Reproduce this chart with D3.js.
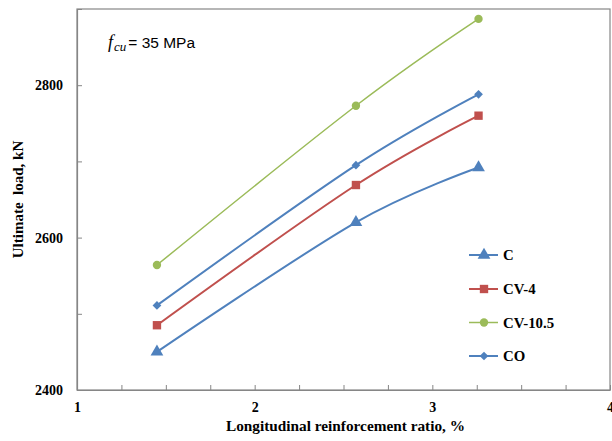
<!DOCTYPE html>
<html>
<head>
<meta charset="utf-8">
<script src="https://cdn.jsdelivr.net/npm/d3@7"></script>
<style>
  html, body { margin: 0; padding: 0; background: #fff; }
  svg { display: block; }
  .tick text { font-family: "Liberation Serif", "Times New Roman", serif; font-weight: bold; font-size: 14px; fill: #000; }
</style>
</head>
<body>
<svg id="chart" width="612" height="441"></svg>
<script>
// Longitudinal reinforcement ratio (%) for the three column groups
const ratios = [1.45, 2.57, 3.26];

// Ultimate load (kN) per specimen series
const loadC     = [2450, 2620, 2692];
const loadCV4   = [2485, 2669, 2760];
const loadCV105 = [2564, 2773, 2887];
const loadCO    = [2511, 2695, 2788];

const seriesNames = ["C", "CV-4", "CV-10.5", "CO"];
const xTickLabels = [1, 2, 3, 4];
const yTickLabels = [2400, 2600, 2800];

// Marker styles; the CO diamond is a square turned by 45 degrees
const series = [
  { name: seriesNames[0], values: loadC,     color: "#4F81BD", width: 2,   symbol: d3.symbolTriangle, size: 70, rot: 0 },
  { name: seriesNames[1], values: loadCV4,   color: "#C0504D", width: 2,   symbol: d3.symbolSquare,   size: 70, rot: 0 },
  { name: seriesNames[2], values: loadCV105, color: "#9BBB59", width: 1.5, symbol: d3.symbolCircle,   size: 55, rot: 0 },
  { name: seriesNames[3], values: loadCO,    color: "#4F81BD", width: 2,   symbol: d3.symbolSquare,   size: 38, rot: 45 }
];

const svg = d3.select("#chart");
const margin = { left: 77, right: 2, top: 9, bottom: 51 };
const W = 612, H = 441;

const x = d3.scaleLinear().domain([1, 4]).range([margin.left, W - margin.right]);
const y = d3.scaleLinear().domain([2400, 2900]).range([H - margin.bottom, margin.top]);

const axisColor = "#868686";

// Plot frame
svg.append("rect")
  .attr("x", x(1)).attr("y", y(2900))
  .attr("width", x(4) - x(1)).attr("height", y(2400) - y(2900))
  .attr("fill", "none").attr("stroke", axisColor).attr("stroke-width", 1.2);

// X axis: ticks every 0.25, labels on integers, ticks pointing inward
const xAxis = d3.axisBottom(x)
  .tickValues(d3.range(1, 4.001, 0.25))
  .tickSizeInner(-5).tickSizeOuter(0).tickPadding(12)
  .tickFormat(d => xTickLabels.includes(d) ? d3.format("d")(d) : "");
const gx = svg.append("g").attr("transform", `translate(0,${y(2400)})`).call(xAxis);
gx.select(".domain").attr("stroke", axisColor).attr("stroke-width", 1.2);
gx.selectAll(".tick line").attr("stroke", axisColor);

// Y axis: ticks every 100, labels every 200, ticks pointing inward
const yAxis = d3.axisLeft(y)
  .tickValues(d3.range(2400, 2901, 100))
  .tickSizeInner(-5).tickSizeOuter(0).tickPadding(14)
  .tickFormat(d => yTickLabels.includes(d) ? d : "");
const gy = svg.append("g").attr("transform", `translate(${x(1)},0)`).call(yAxis);
gy.select(".domain").attr("stroke", axisColor).attr("stroke-width", 1.2);
gy.selectAll(".tick line").attr("stroke", axisColor);

// Axis titles
svg.append("text")
  .attr("x", (x(1) + x(4)) / 2 + 2).attr("y", 431)
  .attr("text-anchor", "middle")
  .attr("font-family", "Liberation Serif, Times New Roman, serif")
  .attr("font-weight", "bold").attr("font-size", 15.3)
  .text("Longitudinal reinforcement ratio, %");

svg.append("text")
  .attr("transform", `translate(23,${(y(2400) + y(2900)) / 2}) rotate(-90)`)
  .attr("text-anchor", "middle")
  .attr("font-family", "Liberation Serif, Times New Roman, serif")
  .attr("font-weight", "bold").attr("font-size", 15)
  .attr("xml:space", "preserve")
  .text("Ultimate  load, kN");

// Smoothed series lines and markers
const line = d3.line()
  .x((d, i) => x(ratios[i]))
  .y(d => y(d))
  .curve(d3.curveCatmullRom.alpha(0));

series.forEach(s => {
  svg.append("path")
    .datum(s.values)
    .attr("d", line)
    .attr("fill", "none")
    .attr("stroke", s.color)
    .attr("stroke-width", s.width);

  svg.append("g").selectAll("path")
    .data(s.values)
    .join("path")
    .attr("transform", (d, i) => `translate(${x(ratios[i])},${y(d)}) rotate(${s.rot})`)
    .attr("d", d3.symbol().type(s.symbol).size(s.size))
    .attr("fill", s.color);
});

// Legend
const legend = svg.append("g").attr("transform", "translate(469,255)");
const rowY = [0, 34, 67.5, 101];
series.forEach((s, i) => {
  const g = legend.append("g").attr("transform", `translate(0,${rowY[i]})`);
  g.append("line").attr("x1", 0).attr("x2", 29).attr("y1", 0).attr("y2", 0)
    .attr("stroke", s.color).attr("stroke-width", s.width);
  g.append("path").attr("transform", `translate(15,0) rotate(${s.rot})`)
    .attr("d", d3.symbol().type(s.symbol).size(s.size)).attr("fill", s.color);
  g.append("text").attr("x", 34).attr("y", 5)
    .attr("font-family", "Liberation Serif, Times New Roman, serif")
    .attr("font-weight", "bold").attr("font-size", 14.8)
    .text(s.name);
});

// Concrete strength annotation
const note = svg.append("text").attr("x", 108).attr("y", 47.5);
note.append("tspan")
  .attr("font-family", "Liberation Serif, Times New Roman, serif")
  .attr("font-style", "italic").attr("font-size", 18)
  .text("f");
note.append("tspan")
  .attr("font-family", "Liberation Serif, Times New Roman, serif")
  .attr("font-style", "italic").attr("font-size", 13)
  .attr("dx", 1).attr("dy", 3)
  .text("cu");
note.append("tspan")
  .attr("font-family", "Liberation Sans, Arial, sans-serif")
  .attr("font-size", 15.5).attr("dy", -3).attr("dx", 2)
  .text("= 35 MPa");
</script>
</body>
</html>
